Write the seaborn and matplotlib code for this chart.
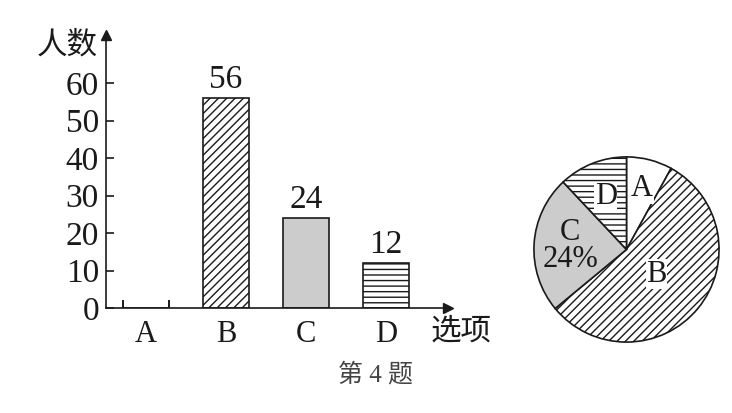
import numpy as np
import matplotlib
matplotlib.use("Agg")
import matplotlib.pyplot as plt
import seaborn as sns

# ================================
# Data
# ================================
options = ["A", "B", "C", "D"]
counts = [0, 56, 24, 12]          # A is left blank in the bar chart
pie_shares = [8, 56, 24, 12]      # percent of total (100 people)
bar_hatches = ["", "////", "", "---"]
fills = ["white", "white", "#cccccc", "white"]
label_dist = [0.68, 0.42, 0.61, 0.61]

sns.set_style("white")
plt.rcParams["font.family"] = ["Liberation Serif", "Noto Sans CJK SC"]
plt.rcParams["hatch.linewidth"] = 1.0
ink = "#1a1a1a"

fig = plt.figure(figsize=(7.32, 4.13), dpi=100)
W, H = 732, 413

# ================================
# Bar chart
# ================================
ax = fig.add_axes([106 / W, (H - 308) / H, (448 - 106) / W, (308 - 35) / H])
bar_w = 46 / 80
sns.barplot(x=options, y=counts, order=options, color="white",
            edgecolor=ink, linewidth=1.2, width=bar_w, ax=ax)
for patch, hatch, fc in zip(ax.patches, bar_hatches, fills):
    patch.set_facecolor(fc)
    patch.set_hatch(hatch)
    patch.set_edgecolor(ink)

ax.bar_label(ax.containers[0], labels=[str(v) if v else "" for v in counts],
             padding=2, fontsize=24, color=ink)

# little marks at the edges of the (empty) A column
ax.vlines([0 - bar_w / 2, 0 + bar_w / 2], 0, 2.2, color=ink, lw=1.4)

ax.set_xlim(-0.5, 3.775)
ax.set_ylim(0, 72.8)
ax.set_yticks(range(0, 70, 10))
ax.set_xlabel("")
ax.set_ylabel("")
ax.tick_params(axis="y", left=True, direction="in", length=6, width=1.2,
               labelsize=24, pad=5, colors=ink)
ax.tick_params(axis="x", bottom=False, length=0, labelsize=22, pad=9, colors=ink)
for s in ["top", "right"]:
    ax.spines[s].set_visible(False)
for s in ["left", "bottom"]:
    ax.spines[s].set_linewidth(1.2)
    ax.spines[s].set_color(ink)

# axis arrows
ax.plot(0, 1, marker="^", color=ink, ms=7, transform=ax.transAxes, clip_on=False)
ax.plot(1, 0, marker=">", color=ink, ms=7, transform=ax.transAxes, clip_on=False)

ax.text(-0.114, 0.963, "人数", transform=ax.transAxes, ha="center", va="center",
        fontsize=22, color=ink, family="Noto Sans CJK SC")
ax.text(1.038, -0.084, "选项", transform=ax.transAxes, ha="center", va="center",
        fontsize=22, color=ink, family="Noto Sans CJK SC")

fig.text(376 / W, 1 - 375 / H, "第 4 题", ha="center", va="center",
         fontsize=18, color="#444444")

# ================================
# Pie chart
# ================================
ax2 = fig.add_axes([533 / W, 70 / H, 187 / W, 187 / H])
wedges, _ = ax2.pie(pie_shares, startangle=90, counterclock=False, colors=fills,
                    wedgeprops=dict(edgecolor=ink, linewidth=1.2))
for wedge, hatch in zip(wedges, bar_hatches):
    wedge.set_hatch(hatch)

pie_labels = ["A", "B", f"C\n{pie_shares[2]}%", "D"]
for wedge, lab, dist in zip(wedges, pie_labels, label_dist):
    mid = np.deg2rad((wedge.theta1 + wedge.theta2) / 2)
    box = None if "%" in lab else dict(fc="white", ec="none", pad=0.5)
    ax2.text(dist * np.cos(mid), dist * np.sin(mid), lab, ha="center", va="center",
             fontsize=22, color=ink, linespacing=0.95, bbox=box)

ax2.set_xlim(-1.01, 1.01)
ax2.set_ylim(-1.01, 1.01)
ax2.set_aspect("equal")
ax2.axis("off")

fig.savefig("out.png", dpi=100, facecolor="white")
